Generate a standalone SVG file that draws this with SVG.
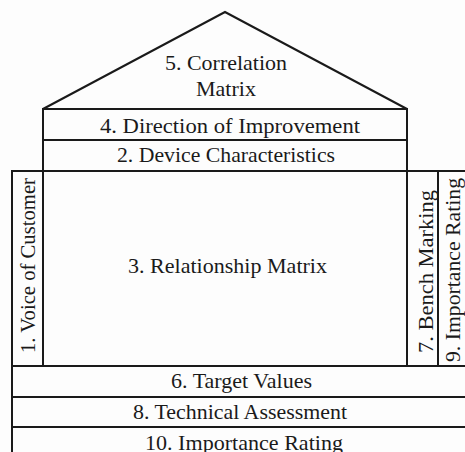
<svg xmlns="http://www.w3.org/2000/svg" width="465" height="452" viewBox="0 0 465 452">
  <defs>
    <style>
      .box { fill: none; stroke: #1a1a1a; stroke-width: 2; }
    </style>
  </defs>
  <rect x="0" y="0" width="465" height="452" fill="#fdfdfd"/>

  <!-- roof -->
  <g id="correlation-matrix">
    <polygon class="box" points="43,109 225,12 407,109"/>
    <text font-family="Liberation Serif, serif" font-size="22" fill="#1a1a1a" text-anchor="middle" x="226" y="70" textLength="122" lengthAdjust="spacingAndGlyphs">5. Correlation</text>
    <text font-family="Liberation Serif, serif" font-size="22" fill="#1a1a1a" text-anchor="middle" x="226" y="96">Matrix</text>
  </g>

  <g id="direction-of-improvement">
    <rect class="box" x="43" y="109" width="364" height="31"/>
    <text font-family="Liberation Serif, serif" font-size="22" fill="#1a1a1a" text-anchor="middle" x="230" y="133" textLength="260" lengthAdjust="spacingAndGlyphs">4. Direction of Improvement</text>
  </g>

  <g id="device-characteristics">
    <rect class="box" x="43" y="140" width="364" height="31"/>
    <text font-family="Liberation Serif, serif" font-size="22" fill="#1a1a1a" text-anchor="middle" x="226" y="162" textLength="218" lengthAdjust="spacingAndGlyphs">2. Device Characteristics</text>
  </g>

  <g id="voice-of-customer">
    <rect class="box" x="12" y="171" width="31" height="195"/>
    <text font-family="Liberation Serif, serif" font-size="22" fill="#1a1a1a" text-anchor="middle" transform="translate(35,265.5) rotate(-90)" textLength="175" lengthAdjust="spacingAndGlyphs">1. Voice of Customer</text>
  </g>

  <g id="relationship-matrix">
    <rect class="box" x="43" y="171" width="364" height="195"/>
    <text font-family="Liberation Serif, serif" font-size="22" fill="#1a1a1a" text-anchor="middle" x="227.5" y="273" textLength="199" lengthAdjust="spacingAndGlyphs">3. Relationship Matrix</text>
  </g>

  <g id="bench-marking">
    <rect class="box" x="407" y="171" width="31" height="195"/>
    <text font-family="Liberation Serif, serif" font-size="22" fill="#1a1a1a" text-anchor="middle" transform="translate(433,271.5) rotate(-90)" textLength="163" lengthAdjust="spacingAndGlyphs">7. Bench Marking</text>
  </g>

  <g id="importance-rating-side">
    <rect class="box" x="438" y="171" width="40" height="195"/>
    <text font-family="Liberation Serif, serif" font-size="22" fill="#1a1a1a" text-anchor="middle" transform="translate(460,270) rotate(-90)" textLength="184" lengthAdjust="spacingAndGlyphs">9. Importance Rating</text>
  </g>

  <g id="target-values">
    <rect class="box" x="12" y="366" width="466" height="31"/>
    <text font-family="Liberation Serif, serif" font-size="22" fill="#1a1a1a" text-anchor="middle" x="241.5" y="388" textLength="141" lengthAdjust="spacingAndGlyphs">6. Target Values</text>
  </g>

  <g id="technical-assessment">
    <rect class="box" x="12" y="397" width="466" height="30"/>
    <text font-family="Liberation Serif, serif" font-size="22" fill="#1a1a1a" text-anchor="middle" x="240" y="419" textLength="214" lengthAdjust="spacingAndGlyphs">8. Technical Assessment</text>
  </g>

  <g id="importance-rating-bottom">
    <rect class="box" x="12" y="427" width="466" height="40"/>
    <text font-family="Liberation Serif, serif" font-size="22" fill="#1a1a1a" text-anchor="middle" x="244" y="450" textLength="198" lengthAdjust="spacingAndGlyphs">10. Importance Rating</text>
  </g>

  <g id="connectors"></g>
</svg>
